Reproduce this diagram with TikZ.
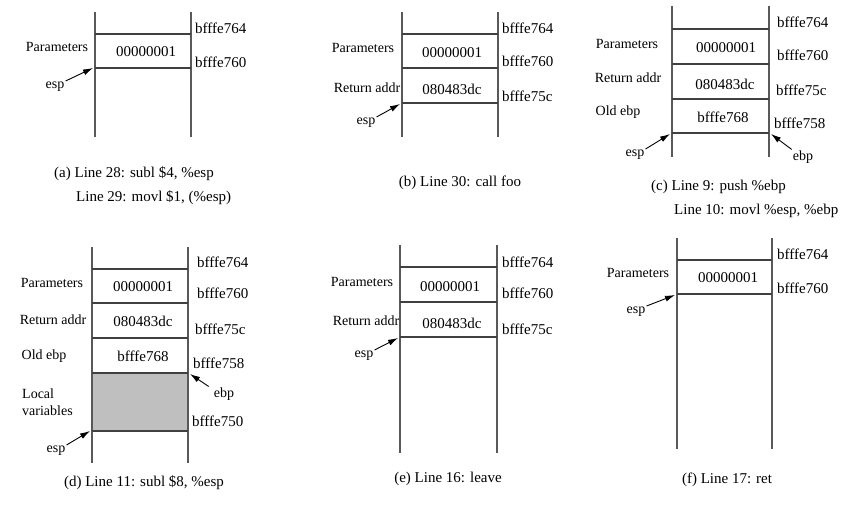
\documentclass[tikz,border=0pt]{standalone}
\usepackage{fontspec}
\setmainfont{Liberation Serif}
\usetikzlibrary{arrows.meta}
\begin{document}
\begin{tikzpicture}[x=1pt,y=-1pt,
  wall/.style={line width=1.3pt, draw=black!65},
  sepline/.style={line width=1.1pt, draw=black!75},
  lbl/.style={font=\fontsize{14}{16}\selectfont, inner sep=1pt},
  val/.style={font=\fontsize{15}{17}\selectfont, inner sep=1pt},
  addr/.style={font=\fontsize{15}{17}\selectfont, anchor=west, inner sep=0pt},
  captxt/.style={font=\fontsize{15}{17}\selectfont, inner sep=0pt},
  ptr/.style={-{Latex[length=10pt,width=6pt]}, line width=0.9pt}]
\useasboundingbox (0,0) rectangle (856,509);

% ---------------- (a) ----------------
\draw[wall] (95,12) -- (95,137);
\draw[wall] (191,12) -- (191,137);
\draw[sepline] (95,34) -- (191,34);
\draw[sepline] (95,68) -- (191,68);
\node[lbl] (parA) at (57,47) {Parameters};
\node[val] (v1A) at (146,52) {00000001};
\node[addr] (a764A) at (195,28) {bfffe764};
\node[addr] (a760A) at (195,62) {bfffe760};
\node[lbl] (espA) at (55,87) {esp};
\coordinate (espAt) at (93,68);
\draw[ptr] (espA.north east) -- (espAt);
\node[captxt, anchor=west] (capA1) at (54,174) {(a) Line 28: subl \$4, \%esp};
\node[captxt, anchor=west] (capA2) at (76,198) {Line 29: movl \$1, (\%esp)};

% ---------------- (b) ----------------
\draw[wall] (402,12) -- (402,137);
\draw[wall] (498,12) -- (498,137);
\draw[sepline] (402,34) -- (498,34);
\draw[sepline] (402,68) -- (498,68);
\draw[sepline] (402,103) -- (498,103);
\node[lbl] (parB) at (363,48) {Parameters};
\node[lbl] (retB) at (367,88) {Return addr};
\node[val] (v1B) at (452,53) {00000001};
\node[val] (v2B) at (452,89) {080483dc};
\node[addr] (a764B) at (502,28) {bfffe764};
\node[addr] (a760B) at (502,61) {bfffe760};
\node[addr] (a75cB) at (502,96) {bfffe75c};
\node[lbl] (espB) at (366,123) {esp};
\coordinate (espBt) at (400,104);
\draw[ptr] (espB.north east) -- (espBt);
\node[captxt] (capB) at (460,183) {(b) Line 30: call foo};

% ---------------- (c) ----------------
\draw[wall] (672,6) -- (672,157);
\draw[wall] (769,6) -- (769,157);
\draw[sepline] (672,29) -- (769,29);
\draw[sepline] (672,64) -- (769,64);
\draw[sepline] (672,99) -- (769,99);
\draw[sepline] (672,133) -- (769,133);
\node[lbl] (parC) at (627,44) {Parameters};
\node[lbl] (retC) at (628,78) {Return addr};
\node[lbl] (oldC) at (618,112) {Old ebp};
\node[val] (v1C) at (726,48) {00000001};
\node[val] (v2C) at (725,84) {080483dc};
\node[val] (v3C) at (723,117) {bfffe768};
\node[addr] (a764C) at (777,22) {bfffe764};
\node[addr] (a760C) at (777,55) {bfffe760};
\node[addr] (a75cC) at (776,90) {bfffe75c};
\node[addr] (a758C) at (774,123) {bfffe758};
\node[lbl] (espC) at (635,155) {esp};
\coordinate (espCt) at (670,134);
\draw[ptr] (espC.north east) -- (espCt);
\node[lbl] (ebpC) at (803,157) {ebp};
\coordinate (ebpCt) at (771,134);
\draw[ptr] (ebpC.north west) -- (ebpCt);
\node[captxt, anchor=west] (capC1) at (651,187) {(c) Line 9: push \%ebp};
\node[captxt, anchor=west] (capC2) at (674,211) {Line 10: movl \%esp, \%ebp};

% ---------------- (d) ----------------
\fill[black!25] (92,373) rectangle (188,431);
\draw[wall] (92,247) -- (92,463);
\draw[wall] (188,247) -- (188,463);
\draw[sepline] (92,269) -- (188,269);
\draw[sepline] (92,303) -- (188,303);
\draw[sepline] (92,338) -- (188,338);
\draw[sepline] (92,373) -- (188,373);
\draw[sepline] (92,431) -- (188,431);
\node[lbl] (parD) at (52,283) {Parameters};
\node[lbl] (retD) at (53,320) {Return addr};
\node[lbl] (oldD) at (44,356) {Old ebp};
\node[lbl, align=left, anchor=west, font=\fontsize{14}{17}\selectfont] (locD) at (21,402) {Local\\variables};
\node[val] (v1D) at (143,287) {00000001};
\node[val] (v2D) at (143,321) {080483dc};
\node[val] (v3D) at (143,356) {bfffe768};
\node[addr] (a764D) at (197,262) {bfffe764};
\node[addr] (a760D) at (197,293) {bfffe760};
\node[addr] (a75cD) at (195,329) {bfffe75c};
\node[addr] (a758D) at (193,363) {bfffe758};
\node[addr] (a750D) at (192,421) {bfffe750};
\node[lbl] (ebpD) at (224,394) {ebp};
\coordinate (ebpDt) at (190,374);
\draw[ptr] ([xshift=-4pt]ebpD.north west) -- (ebpDt);
\node[lbl] (espD) at (56,451) {esp};
\coordinate (espDt) at (90,431);
\draw[ptr] (espD.north east) -- (espDt);
\node[captxt] (capD) at (144,483) {(d) Line 11: subl \$8, \%esp};

% ---------------- (e) ----------------
\draw[wall] (400,245) -- (400,453);
\draw[wall] (497,245) -- (497,453);
\draw[sepline] (400,267) -- (497,267);
\draw[sepline] (400,302) -- (497,302);
\draw[sepline] (400,337) -- (497,337);
\node[lbl] (parE) at (362,282) {Parameters};
\node[lbl] (retE) at (366,321) {Return addr};
\node[val] (v1E) at (450,287) {00000001};
\node[val] (v2E) at (452,323) {080483dc};
\node[addr] (a764E) at (502,262) {bfffe764};
\node[addr] (a760E) at (502,293) {bfffe760};
\node[addr] (a75cE) at (502,329) {bfffe75c};
\node[lbl] (espE) at (364,356) {esp};
\coordinate (espEt) at (398,338);
\draw[ptr] (espE.north east) -- (espEt);
\node[captxt] (capE) at (448,479) {(e) Line 16: leave};

% ---------------- (f) ----------------
\draw[wall] (677,238) -- (677,449);
\draw[wall] (772,238) -- (772,449);
\draw[sepline] (677,260) -- (772,260);
\draw[sepline] (677,294) -- (772,294);
\node[lbl] (parF) at (638,273) {Parameters};
\node[val] (v1F) at (728,278) {00000001};
\node[addr] (a764F) at (777,254) {bfffe764};
\node[addr] (a760F) at (777,288) {bfffe760};
\node[lbl] (espF) at (636,312) {esp};
\coordinate (espFt) at (675,295);
\draw[ptr] (espF.north east) -- (espFt);
\node[captxt] (capF) at (727,480) {(f) Line 17: ret};
\end{tikzpicture}
\end{document}
